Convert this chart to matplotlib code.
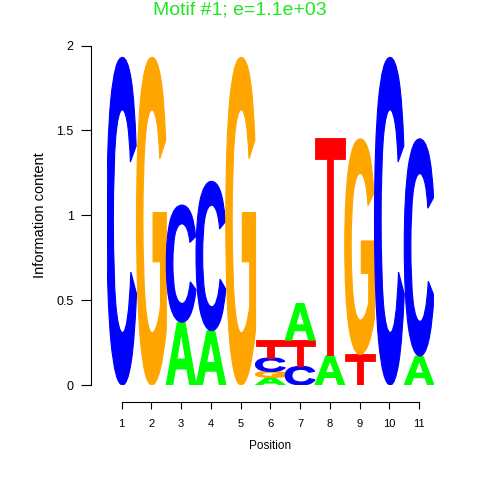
import matplotlib
matplotlib.use("Agg")
import matplotlib.pyplot as plt
from matplotlib.textpath import TextPath
from matplotlib.patches import PathPatch, Polygon
from matplotlib.font_manager import FontProperties
from matplotlib.transforms import Affine2D

plt.rcParams.update({
    "font.family": "Liberation Sans",
    "axes.linewidth": 0.8,
    "xtick.color": "black",
    "ytick.color": "black",
})

# letters per position, bottom to top, with heights (bits)
positions = list(range(1, 12))
letters = [
    ["C"],
    ["G"],
    ["A", "C"],
    ["A", "C"],
    ["G"],
    ["A", "G", "C", "T"],
    ["C", "T", "A"],
    ["A", "T"],
    ["T", "G"],
    ["C"],
    ["A", "C"],
]
heights = [
    [1.93],
    [1.93],
    [0.37, 0.69],
    [0.32, 0.88],
    [1.93],
    [0.045, 0.035, 0.08, 0.105],
    [0.11, 0.155, 0.215],
    [0.175, 1.28],
    [0.18, 1.27],
    [1.93],
    [0.17, 1.28],
]
colors = {"A": "#00FF00", "C": "#0000FF", "G": "#FFA500", "T": "#FF0000"}

fig = plt.figure(figsize=(4.8, 4.8), dpi=100)
# axes placed so that x 0.5..11.5 and y 0..2 land where the reference has them
ax = fig.add_axes([106.8 / 480, 95 / 480, 327.2 / 480, 339.5 / 480])

fp = FontProperties(family="Liberation Sans", weight="bold")


def draw_letter(ax, ch, x0, y0, w, h):
    if ch == "T":
        # thin-barred T like the reference
        bar = min(0.075 * h + 0.026, 0.45 * h)
        sw = 0.21 * w
        xs = [0, w, w, (w + sw) / 2, (w + sw) / 2, (w - sw) / 2, (w - sw) / 2, 0]
        ys = [h, h, h - bar, h - bar, 0, 0, h - bar, h - bar]
        pts = [(x0 + a, y0 + b) for a, b in zip(xs, ys)]
        ax.add_patch(Polygon(pts, closed=True, facecolor=colors[ch],
                             edgecolor=colors[ch], linewidth=0.6))
        return
    tp = TextPath((0, 0), ch, size=1, prop=fp)
    ext = tp.get_extents()
    tr = (Affine2D().translate(-ext.x0, -ext.y0)
          .scale(w / ext.width, h / ext.height)
          .translate(x0, y0))
    path = tr.transform_path(tp)
    ax.add_patch(PathPatch(path, facecolor=colors[ch], edgecolor=colors[ch],
                           linewidth=0.8))


for pos, lets, hs in zip(positions, letters, heights):
    y = 0.0
    for ch, h in zip(lets, hs):
        draw_letter(ax, ch, pos - 0.5, y, 1.0, h)
        y += h

ax.set_xlim(0.5, 11.5)
ax.set_ylim(0, 2)

for s in ["top", "right"]:
    ax.spines[s].set_visible(False)
ax.spines["left"].set_position(("outward", 11.6))
ax.spines["bottom"].set_position(("outward", 12.2))
ax.spines["left"].set_bounds(0, 2)
ax.spines["bottom"].set_bounds(1, 11)

ax.set_yticks([0, 0.5, 1, 1.5, 2])
ax.set_yticklabels(["0", "0.5", "1", "1.5", "2"])
ax.set_xticks(positions)
ax.set_xticklabels([str(p) for p in positions])
ax.tick_params(axis="y", length=7.2, width=0.8, pad=5, labelsize=9)
ax.tick_params(axis="x", length=5, width=0.8, pad=7, labelsize=8)

ax.set_ylabel("Information content", fontsize=10.5)
ax.set_xlabel("Position", fontsize=8.5)
ax.yaxis.set_label_coords(-0.205, 0.5)
ax.xaxis.set_label_coords(0.5, -0.181)
ax.yaxis.label.set_va("center")
ax.xaxis.label.set_va("center")

fig.text(0.5, 1 - 10 / 480, "Motif #1; e=1.1e+03", ha="center", va="center",
         fontsize=14, color="#22E622")

fig.savefig("out.png", dpi=100, facecolor="white")
